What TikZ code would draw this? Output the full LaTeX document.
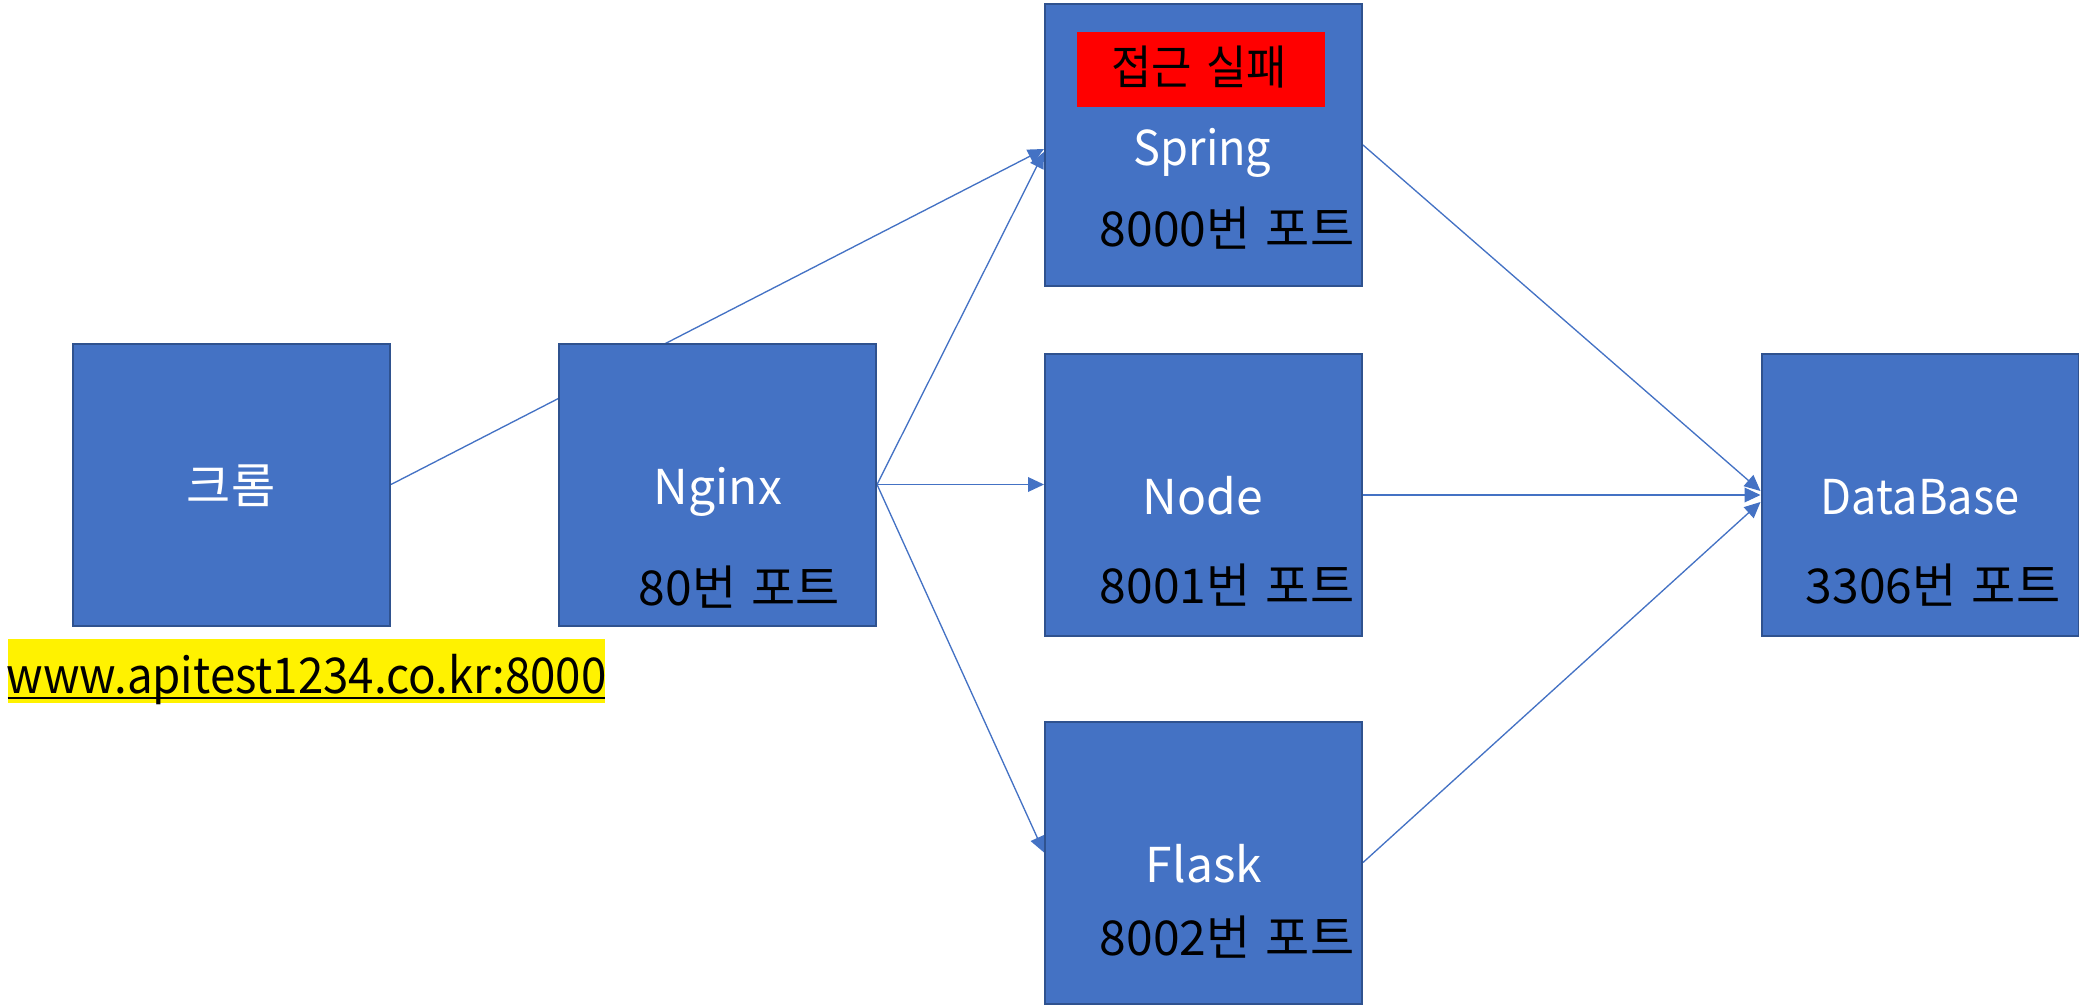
\documentclass[tikz,border=0pt]{standalone}
\usepackage{fontspec}
\setmainfont{Noto Sans CJK KR}
\usetikzlibrary{arrows.meta,calc,backgrounds}
\definecolor{boxblue}{HTML}{4472C4}
\definecolor{boxedge}{HTML}{2F528F}
\newcommand\wgap{\hspace{11.5pt}}
\tikzset{
  box/.style={draw=boxedge, fill=boxblue, line width=1.5pt, inner sep=0pt,
    minimum width=237.75pt, minimum height=211.5pt},
  wlabel/.style={text=white, inner sep=0pt, font=\fontsize{36pt}{43pt}\selectfont},
  blabel/.style={text=black, inner sep=0pt, font=\fontsize{36pt}{43pt}\selectfont},
  conn/.style={draw=boxblue, line width=1pt},
  arr/.style={conn, -{Triangle[length=12pt,width=11pt]}}
}
\begin{document}
\begin{tikzpicture}[x=0.75pt,y=-0.75pt]
\useasboundingbox (0,0) rectangle (2079,1005);
% boxes
\node[box] (chrome) at (231.5,484.5) {};
\node[box] (nginx)  at (717.5,484.5) {};
\node[box] (spring) at (1203.5,145) {};
\node[box] (nodejs) at (1203.5,495) {};
\node[box] (flask)  at (1203.5,862.5) {};
\node[box] (db)     at (1920,495) {};
% red label
\node[fill=red, inner sep=0pt, minimum width=186pt, minimum height=56.25pt] (fail) at (1201,69.5) {};
\node[blabel, anchor=center, font=\fontsize{35pt}{42pt}\selectfont, xscale=0.94, transform shape] (failtxt) at (1199,67.5) {접근\wgap 실패};
% texts
\node[wlabel, anchor=center] (chrometxt) at (231,486) {크롬};
\node[wlabel, anchor=base] (nginxtxt) at (718,504) {Nginx};
\node[blabel, anchor=base] (nginxport) at (739.5,605) {80번\wgap 포트};
\node[wlabel, anchor=base, xscale=0.94, transform shape] (springtxt) at (1202.5,166) {Spring};
\node[blabel, anchor=base] (springport) at (1227,247) {8000번\wgap 포트};
\node[wlabel, anchor=base] (nodetxt) at (1203,514) {Node};
\node[blabel, anchor=base] (nodeport) at (1227,603) {8001번\wgap 포트};
\node[wlabel, anchor=base] (flasktxt) at (1204,882) {Flask};
\node[blabel, anchor=base] (flaskport) at (1227,955) {8002번\wgap 포트};
\node[wlabel, anchor=base, xscale=0.94, transform shape] (dbtxt) at (1920,514) {DataBase};
\node[blabel, anchor=base] (dbport) at (1933,603) {3306번\wgap 포트};
% url
\node[fill=yellow, inner sep=0pt, minimum width=447.75pt, minimum height=48pt] (urlbg) at (306.5,671) {};
\node[blabel, anchor=base, font=\fontsize{37pt}{44pt}\selectfont, xscale=0.925, transform shape] (url) at (306.5,693) {www.apitest1234.co.kr:8000};
\draw[line width=1.6pt] ($(urlbg.south west)+(0,-5)$) -- ($(urlbg.south east)+(0,-5)$);
% connectors
\begin{pgfonlayer}{background}
\draw[arr] (chrome.east) -- ($(spring.west)+(0,4)$);
\draw[arr] (nginx.east) -- ($(spring.west)+(0,7)$);
\draw[arr] (nginx.east) -- (nginx.east -| nodejs.west);
\draw[arr] (nginx.east) -- ($(flask.west)+(0,-10)$);
\draw[arr] (spring.east) -- ($(db.west)+(0,-4)$);
\draw[arr] (nodejs.east) -- (db.west);
\draw[arr] (flask.east) -- ($(db.west)+(0,7)$);
\end{pgfonlayer}
\end{tikzpicture}
\end{document}
